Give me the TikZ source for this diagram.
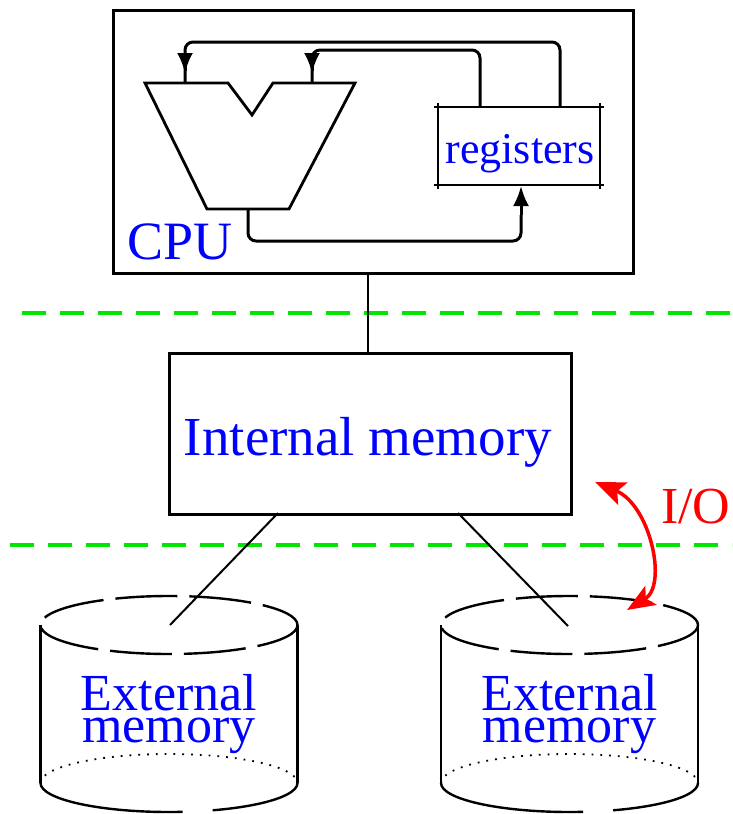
\documentclass[tikz,border=0pt]{standalone}
\usepackage{fontspec}
\setmainfont{Liberation Serif}
\usetikzlibrary{arrows.meta,calc}
\definecolor{lgreen}{RGB}{0,230,0}
\definecolor{lblue}{RGB}{0,0,255}
\definecolor{lred}{RGB}{255,0,0}
\tikzset{
  box/.style={draw, line width=3.2pt, inner sep=0pt},
  wire/.style={line width=3pt, rounded corners=8pt},
  cpuarrow/.style={line width=3pt, -{Latex[length=20pt,width=16pt]}},
  lbl/.style={text=lblue, inner sep=0pt},
  sep/.style={draw=lgreen, line width=4pt, dash pattern=on 24pt off 14pt},
  link/.style={line width=2pt},
  cylline/.style={line width=2.4pt},
  disk/.pic={
    \draw[cylline, dash pattern=on 62pt off 12pt, dash phase=20pt] (0,625) ellipse [x radius=128.5pt, y radius=29pt];
    \draw[cylline] (-128.5,625) -- (-128.5,783);
    \draw[cylline] (128.5,625) -- (128.5,783);
    \draw[cylline, dash pattern=on 150pt off 30pt] (-128.5,783) arc[start angle=180, end angle=360, x radius=128.5pt, y radius=29pt];
    \draw[line width=1.8pt, dash pattern=on 1.8pt off 7pt] (-128.5,783) arc[start angle=180, end angle=0, x radius=128.5pt, y radius=29pt];
    \node[lbl, align=center, anchor=base, font=\fontsize{52}{32}\selectfont] (-txt) at (0,742) {External\\memory};
  },
}
\begin{document}
\begin{tikzpicture}[x=1pt,y=-1pt]
\useasboundingbox (0,0) rectangle (732,814);

% separators
\coordinate (s1a) at (22,313); \coordinate (s1b) at (732,313);
\coordinate (s2a) at (10,545); \coordinate (s2b) at (732,545);
\draw[sep] (s1a) -- (s1b);
\draw[sep] (s2a) -- (s2b);

% CPU box
\node[box, minimum width=520pt, minimum height=263pt, anchor=north west] (cpu) at (112,9) {};
\node[lbl, anchor=base west, font=\fontsize{54}{54}\selectfont] (cpulbl) at (127,259) {CPU};

% ALU
\coordinate (a1) at (145,83);
\coordinate (a2) at (228,83);
\coordinate (a3) at (252,115);
\coordinate (a4) at (273,83);
\coordinate (a5) at (355,83);
\coordinate (a6) at (289,209);
\coordinate (a7) at (207,209);
\draw[line width=2.8pt, line join=miter] (a1) -- (a2) -- (a3) -- (a4) -- (a5) -- (a6) -- (a7) -- cycle;

% registers
\node[inner sep=0pt, minimum width=162pt, minimum height=78pt] (reg) at (519,146) {};
\draw[line width=2.5pt] ($(reg.north west)+(-4,0)$) -- ($(reg.north east)+(4,0)$);
\draw[line width=2.5pt] ($(reg.south west)+(-4,0)$) -- ($(reg.south east)+(4,0)$);
\draw[line width=2.5pt] ($(reg.north west)+(0,-4)$) -- ($(reg.south west)+(0,4)$);
\draw[line width=2.5pt] ($(reg.north east)+(0,-4)$) -- ($(reg.south east)+(0,4)$);
\node[lbl, anchor=base, font=\fontsize{44}{44}\selectfont] (reglbl) at (520,163) {registers};

% CPU wires
\coordinate (r1) at (560,107);
\coordinate (r2) at (480,107);
\coordinate (in1) at (185,83);
\coordinate (in2) at (312,83);
\coordinate (h1) at (185,73);
\coordinate (h2) at (312,73);
\coordinate (out) at (248,209);
\coordinate (rin) at (521,186);
\draw[wire] (r1) -- (560,42) -- (185,42) -- (in1);
\draw[wire] (r2) -- (480,50) -- (312,50) -- (in2);
\draw[cpuarrow] ($(h1)+(0,-2)$) -- (h1);
\draw[cpuarrow] ($(h2)+(0,-2)$) -- (h2);
\draw[wire] (out) -- (248,241) -- (521,241) -- (521,215);
\draw[cpuarrow] (521,215) -- (rin);

% Internal memory
\node[box, minimum width=402pt, minimum height=161pt, anchor=north west] (mem) at (168,352) {};
\node[lbl, anchor=base, font=\fontsize{55}{55}\selectfont] (memlbl) at (368,455) {Internal memory};
\draw[line width=2.4pt] (mem.north -| 368,0) -- (cpu.south -| 368,0);

% cylinders
\pic (c1) at (169,0) {disk};
\pic (c2) at (569.5,0) {disk};

% links
\coordinate (m1) at (278,513);
\coordinate (m2) at (458,513);
\coordinate (e1) at (170,625);
\coordinate (e2) at (568,626);
\draw[link] (m1) -- (e1);
\draw[link] (m2) -- (e2);

% I/O
\coordinate (io1) at (595,482);
\coordinate (io2) at (627,610);
\draw[lred, line width=3.5pt, {Stealth[length=30pt,width=24pt,inset=6pt]}-{Stealth[length=28pt,width=22pt,inset=6pt]}] (io1) .. controls (650,505) and (668,585) .. (io2);
\node[anchor=base west, text=lred, inner sep=0pt, font=\fontsize{52}{52}\selectfont] (iolbl) at (661,523) {I/O};
\end{tikzpicture}
\end{document}
